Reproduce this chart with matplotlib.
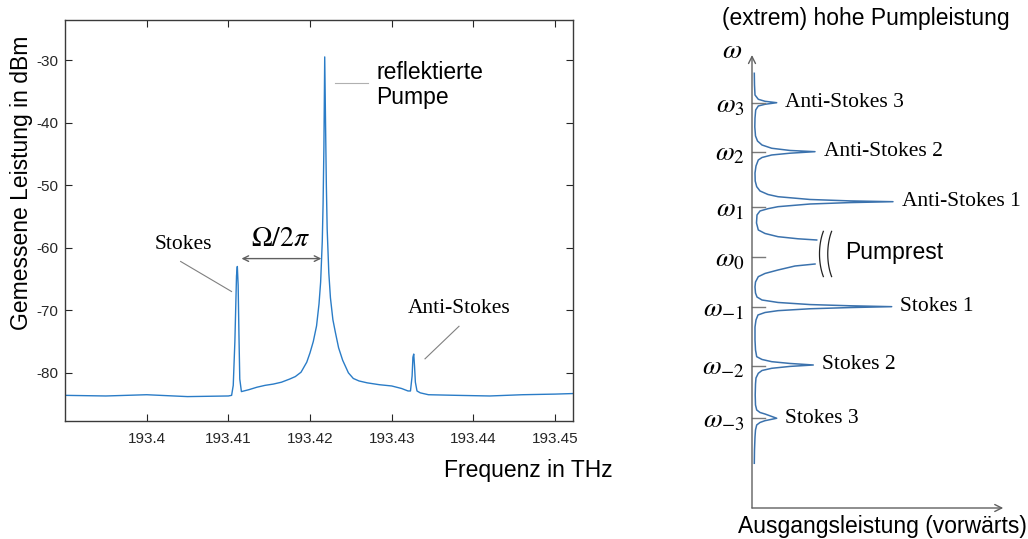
import numpy as np
import matplotlib.pyplot as plt

plt.rcParams['mathtext.fontset'] = 'stix'
plt.rcParams['axes.unicode_minus'] = False
SANS = 'Liberation Sans'
SERIF = 'Liberation Serif'

freq_thz = [193.3900, 193.3950, 193.4000, 193.4050, 193.4100, 193.4104,
            193.4106, 193.4108, 193.4110, 193.4111, 193.4112, 193.4113,
            193.4114, 193.4116, 193.4125, 193.4135, 193.4145, 193.4155,
            193.4165, 193.4175, 193.4182, 193.4189, 193.4196, 193.4200,
            193.4204, 193.4208, 193.4211, 193.4213, 193.4215, 193.4216,
            193.4217, 193.4218, 193.4219, 193.4220, 193.4221, 193.4223,
            193.4225, 193.4228, 193.4231, 193.4235, 193.4240, 193.4247,
            193.4253, 193.4260, 193.4270, 193.4285, 193.4300, 193.4312,
            193.4320, 193.4323, 193.4325, 193.4326, 193.4327, 193.4328,
            193.4329, 193.4331, 193.4335, 193.4345, 193.4380, 193.4420,
            193.4460, 193.4500, 193.4525]
power_dbm = [-83.6, -83.7, -83.5, -83.8, -83.7, -83.6,
             -82.0, -75.0, -64.5, -63.0, -66.0, -74.0,
             -81.0, -83.0, -82.7, -82.3, -82.0, -81.8,
             -81.5, -81.0, -80.6, -79.9, -78.3, -76.8,
             -75.0, -72.5, -69.0, -65.5, -59.0, -53.0,
             -44.0, -29.5, -40.0, -50.0, -57.0, -64.0,
             -68.0, -71.5, -73.5, -76.0, -78.0, -80.0,
             -80.9, -81.3, -81.6, -81.9, -82.1, -82.5,
             -82.9, -82.9, -80.5, -77.5, -77.0, -79.0,
             -81.5, -82.9, -83.2, -83.5, -83.6, -83.7,
             -83.5, -83.4, -83.3]

x_ticks = [193.40, 193.41, 193.42, 193.43, 193.44, 193.45]
x_tick_labels = ['193.4', '193.41', '193.42', '193.43', '193.44', '193.45']
y_ticks = [-80, -70, -60, -50, -40, -30]

# sketch at very high pump power: frequency (in units of the shift) vs. output power
omega_upper = [3.523, 3.300, 3.110, 3.028, 2.990, 2.963, 2.933, 2.901, 2.825,
               2.672, 2.501, 2.330, 2.234, 2.158, 2.096, 2.054, 2.031, 2.002,
               1.968, 1.920, 1.873, 1.759, 1.625, 1.473, 1.365, 1.283, 1.216,
               1.174, 1.121, 1.094, 1.079, 1.062, 1.035, 0.984, 0.946, 0.902,
               0.826, 0.674, 0.541, 0.474, 0.413, 0.373, 0.350]
power_upper = [0.92, 1.00, 1.20, 2.52, 5.20, 9.88, 5.20, 2.52, 1.48,
               1.20, 1.12, 1.40, 2.20, 4.00, 7.88, 15.2, 25.2, 15.2,
               7.88, 4.00, 2.52, 1.60, 1.20, 1.28, 1.88, 3.20, 6.40,
               10.4, 23.2, 39.2, 56.4, 39.2, 23.2, 10.4, 6.40, 3.20,
               2.00, 1.80, 2.52, 5.20, 10.4, 18.4, 25.88]
omega_lower = [-0.107, -0.145, -0.221, -0.287, -0.348, -0.449, -0.544, -0.659,
               -0.735, -0.792, -0.839, -0.879, -0.902, -0.919, -0.936, -0.959,
               -0.995, -1.030, -1.077, -1.172, -1.306, -1.553, -1.743, -1.871,
               -1.924, -1.966, -2.000, -2.029, -2.056, -2.092, -2.134, -2.187,
               -2.276, -2.391, -2.600, -2.790, -2.885, -2.933, -2.962, -3.043,
               -3.089, -3.123, -3.171, -3.266, -3.399, -3.647, -3.900]
power_lower = [25.2, 17.2, 10.4, 5.2, 2.52, 1.4, 1.2, 1.4,
               2.0, 4.0, 10.4, 23.2, 39.2, 55.88, 39.2, 23.2,
               10.4, 5.2, 2.4, 1.6, 1.2, 1.2, 1.4, 1.88,
               4.0, 7.88, 15.2, 24.52, 15.2, 7.88, 4.0, 2.52,
               1.6, 1.4, 1.28, 1.4, 1.88, 3.2, 5.2, 9.88,
               5.2, 3.2, 1.88, 1.4, 1.2, 1.0, 0.92]

level_pos = [2.96, 2.03, 0.98, 0.03, -0.93, -2.04, -3.04]
level_labels = [r'$\omega_3$', r'$\omega_2$', r'$\omega_1$', r'$\omega_0$',
                r'$\omega_{-1}$', r'$\omega_{-2}$', r'$\omega_{-3}$']
peak_names = ['Anti-Stokes 3', 'Anti-Stokes 2', 'Anti-Stokes 1',
              'Stokes 1', 'Stokes 2', 'Stokes 3']
peak_omega = [2.963, 2.031, 1.079, -0.919, -2.029, -3.043]
peak_power = [9.88, 25.2, 56.4, 55.88, 24.52, 9.88]

fig = plt.figure(figsize=(10.28, 5.39), dpi=100)

# ---- left: measurement
ax = fig.add_axes([65 / 1028, 118 / 539, 508 / 1028, 401 / 539])
ax.plot(freq_thz, power_dbm, color='#2a7cc7', lw=1.0)
ax.set_xlim(193.390, 193.4522)
ax.set_ylim(-87.7, -23.6)
ax.set_xticks(x_ticks, x_tick_labels)
ax.set_yticks(y_ticks, [str(v) for v in y_ticks])
ax.tick_params(direction='in', top=True, right=True, length=5, width=0.8,
               colors='#262626', labelsize=11)
ax.tick_params(axis='x', pad=8)
ax.tick_params(axis='y', pad=5)
for lab in ax.get_xticklabels() + ax.get_yticklabels():
    lab.set_family(SANS)
for sp in ax.spines.values():
    sp.set_color('#3a3a3a')
    sp.set_linewidth(1.0)

fig.text(22 / 1028, 1 - 183 / 539, 'Gemessene Leistung in dBm', rotation=90,
         ha='center', va='center', fontsize=16.5, family=SANS)
fig.text(528 / 1028, 1 - 470 / 539, 'Frequenz in THz', ha='center',
         va='center', fontsize=16.5, family=SANS)

gray = '#808080'
ax.plot([193.40416, 193.41039], [-62.2, -67.0], color=gray, lw=0.8)
ax.text(193.4045, -59.5, 'Stokes', ha='center', va='center', fontsize=15.5,
        family=SERIF)
ax.annotate('', xy=(193.42139, -61.74), xytext=(193.41161, -61.74),
            arrowprops=dict(arrowstyle='<->', color='#606060', lw=1.0,
                            shrinkA=0, shrinkB=0))
ax.text(193.41638, -58.4, r'$\Omega/2\pi$', ha='center', va='center',
        fontsize=20)
ax.plot([193.42311, 193.42714], [-33.63, -33.63], color='#b0b0b0', lw=0.8)
ax.text(193.42812, -34.0, 'reflektierte\nPumpe', ha='left', va='center',
        fontsize=16.5, family=SANS, linespacing=1.15)
ax.plot([193.43824, 193.43408], [-72.56, -77.76], color=gray, lw=0.8)
ax.text(193.43826, -69.7, 'Anti-Stokes', ha='center', va='center',
        fontsize=15.5, family=SERIF)

# ---- right: sketch
bx = fig.add_axes([752 / 1028, 31 / 539, 250 / 1028, 453 / 539])
bx.set_xlim(0, 100)
bx.set_ylim(-4.751, 3.871)
bx.axis('off')
axis_col = '#606060'
bx.annotate('', xy=(0, 3.871), xytext=(0, -4.751), annotation_clip=False,
            arrowprops=dict(arrowstyle='->,head_length=0.5,head_width=0.25',
                            color=axis_col, lw=1.0, shrinkA=0, shrinkB=0))
bx.annotate('', xy=(100.5, -4.751), xytext=(0, -4.751), annotation_clip=False,
            arrowprops=dict(arrowstyle='->,head_length=0.5,head_width=0.25',
                            color=axis_col, lw=1.0, shrinkA=0, shrinkB=0))

line_col = '#3b72ad'
bx.plot(power_upper, omega_upper, color=line_col, lw=1.1, clip_on=False)
bx.plot(power_lower, omega_lower, color=line_col, lw=1.1, clip_on=False)

for pos, lab in zip(level_pos, level_labels):
    bx.plot([0, 5.2], [pos, pos], color='#7a7a7a', lw=1.0, clip_on=False)
    bx.text(-3.0, pos - 0.04, lab, ha='right', va='center', fontsize=19.5,
            clip_on=False)
bx.text(-8, 3.96, r'$\omega$', ha='center', va='center', fontsize=20,
        clip_on=False)

for name, om, pw in zip(peak_names, peak_omega, peak_power):
    bx.text(pw + 3.5, om, name, ha='left', va='center', fontsize=15.5,
            family=SERIF, clip_on=False)

# break marks on the pump line
t = np.radians(np.linspace(145, 215, 30))
for cx in (35.5, 38.8):
    bx.plot(cx + 8.5 * np.cos(t), 0.084 + 0.75 * np.sin(t), color='#222222',
            lw=0.9, clip_on=False)
bx.text(37.2, 0.11, 'Pumprest', ha='left', va='center', fontsize=16.5,
        family=SANS, clip_on=False)

fig.text(866 / 1028, 1 - 19 / 539, '(extrem) hohe Pumpleistung', ha='center',
         va='center', fontsize=16.5, family=SANS)
fig.text(882 / 1028, 1 - 526 / 539, 'Ausgangsleistung (vorwärts)',
         ha='center', va='center', fontsize=16.5, family=SANS)

fig.savefig('out.png', dpi=100)
